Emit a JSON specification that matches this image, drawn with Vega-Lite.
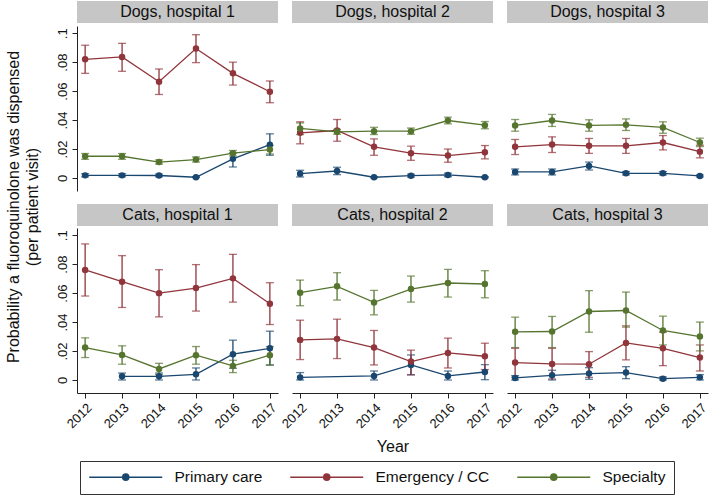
{
  "$schema": "https://vega.github.io/schema/vega-lite/v6.json",
  "padding": {"left": 2, "top": 1, "right": 2, "bottom": 4},
  "spacing": 14,
  "datasets": {
    "d": [
      {"panel":"D1","group":"Primary care","year":2012,"p":0.0018,"lo":0.0008,"hi":0.003},
      {"panel":"D1","group":"Primary care","year":2013,"p":0.0018,"lo":0.0008,"hi":0.003},
      {"panel":"D1","group":"Primary care","year":2014,"p":0.0017,"lo":0.0008,"hi":0.0027},
      {"panel":"D1","group":"Primary care","year":2015,"p":0.0005,"lo":0.0002,"hi":0.0009},
      {"panel":"D1","group":"Primary care","year":2016,"p":0.0132,"lo":0.0076,"hi":0.0173},
      {"panel":"D1","group":"Primary care","year":2017,"p":0.023,"lo":0.0157,"hi":0.0305},
      {"panel":"D1","group":"Emergency / CC","year":2012,"p":0.082,"lo":0.0723,"hi":0.0917},
      {"panel":"D1","group":"Emergency / CC","year":2013,"p":0.0836,"lo":0.0737,"hi":0.093},
      {"panel":"D1","group":"Emergency / CC","year":2014,"p":0.0665,"lo":0.0577,"hi":0.0753},
      {"panel":"D1","group":"Emergency / CC","year":2015,"p":0.0894,"lo":0.0797,"hi":0.099},
      {"panel":"D1","group":"Emergency / CC","year":2016,"p":0.0723,"lo":0.0642,"hi":0.08},
      {"panel":"D1","group":"Emergency / CC","year":2017,"p":0.0596,"lo":0.052,"hi":0.067},
      {"panel":"D1","group":"Specialty","year":2012,"p":0.015,"lo":0.0129,"hi":0.0169},
      {"panel":"D1","group":"Specialty","year":2013,"p":0.015,"lo":0.0129,"hi":0.0169},
      {"panel":"D1","group":"Specialty","year":2014,"p":0.011,"lo":0.0096,"hi":0.0125},
      {"panel":"D1","group":"Specialty","year":2015,"p":0.0127,"lo":0.011,"hi":0.0145},
      {"panel":"D1","group":"Specialty","year":2016,"p":0.0171,"lo":0.0152,"hi":0.019},
      {"panel":"D1","group":"Specialty","year":2017,"p":0.0196,"lo":0.0166,"hi":0.0225},

      {"panel":"D2","group":"Primary care","year":2012,"p":0.003,"lo":0.0007,"hi":0.0053},
      {"panel":"D2","group":"Primary care","year":2013,"p":0.0048,"lo":0.0023,"hi":0.0074},
      {"panel":"D2","group":"Primary care","year":2014,"p":0.0005,"lo":0.0001,"hi":0.0009},
      {"panel":"D2","group":"Primary care","year":2015,"p":0.0016,"lo":0.0006,"hi":0.0026},
      {"panel":"D2","group":"Primary care","year":2016,"p":0.0021,"lo":0.0009,"hi":0.0033},
      {"panel":"D2","group":"Primary care","year":2017,"p":0.0005,"lo":0.0001,"hi":0.0009},
      {"panel":"D2","group":"Emergency / CC","year":2012,"p":0.0312,"lo":0.0236,"hi":0.0388},
      {"panel":"D2","group":"Emergency / CC","year":2013,"p":0.0328,"lo":0.0254,"hi":0.0404},
      {"panel":"D2","group":"Emergency / CC","year":2014,"p":0.0215,"lo":0.0157,"hi":0.027},
      {"panel":"D2","group":"Emergency / CC","year":2015,"p":0.0171,"lo":0.0122,"hi":0.022},
      {"panel":"D2","group":"Emergency / CC","year":2016,"p":0.0155,"lo":0.0109,"hi":0.02},
      {"panel":"D2","group":"Emergency / CC","year":2017,"p":0.0178,"lo":0.0132,"hi":0.0224},
      {"panel":"D2","group":"Specialty","year":2012,"p":0.0342,"lo":0.03,"hi":0.038},
      {"panel":"D2","group":"Specialty","year":2013,"p":0.0319,"lo":0.0302,"hi":0.0336},
      {"panel":"D2","group":"Specialty","year":2014,"p":0.0323,"lo":0.03,"hi":0.035},
      {"panel":"D2","group":"Specialty","year":2015,"p":0.0323,"lo":0.0302,"hi":0.0345},
      {"panel":"D2","group":"Specialty","year":2016,"p":0.0397,"lo":0.0374,"hi":0.042},
      {"panel":"D2","group":"Specialty","year":2017,"p":0.0365,"lo":0.034,"hi":0.039},

      {"panel":"D3","group":"Primary care","year":2012,"p":0.0042,"lo":0.0021,"hi":0.0062},
      {"panel":"D3","group":"Primary care","year":2013,"p":0.0042,"lo":0.0021,"hi":0.0062},
      {"panel":"D3","group":"Primary care","year":2014,"p":0.0083,"lo":0.0055,"hi":0.011},
      {"panel":"D3","group":"Primary care","year":2015,"p":0.0032,"lo":0.0021,"hi":0.0044},
      {"panel":"D3","group":"Primary care","year":2016,"p":0.0032,"lo":0.0021,"hi":0.0044},
      {"panel":"D3","group":"Primary care","year":2017,"p":0.0014,"lo":0.0007,"hi":0.0021},
      {"panel":"D3","group":"Emergency / CC","year":2012,"p":0.0215,"lo":0.0162,"hi":0.0266},
      {"panel":"D3","group":"Emergency / CC","year":2013,"p":0.0231,"lo":0.0176,"hi":0.0284},
      {"panel":"D3","group":"Emergency / CC","year":2014,"p":0.0222,"lo":0.017,"hi":0.0273},
      {"panel":"D3","group":"Emergency / CC","year":2015,"p":0.0222,"lo":0.017,"hi":0.0273},
      {"panel":"D3","group":"Emergency / CC","year":2016,"p":0.0245,"lo":0.0194,"hi":0.0293},
      {"panel":"D3","group":"Emergency / CC","year":2017,"p":0.0182,"lo":0.0139,"hi":0.0226},
      {"panel":"D3","group":"Specialty","year":2012,"p":0.0363,"lo":0.0323,"hi":0.0404},
      {"panel":"D3","group":"Specialty","year":2013,"p":0.0397,"lo":0.0356,"hi":0.0439},
      {"panel":"D3","group":"Specialty","year":2014,"p":0.0363,"lo":0.0323,"hi":0.0402},
      {"panel":"D3","group":"Specialty","year":2015,"p":0.0367,"lo":0.0328,"hi":0.0408},
      {"panel":"D3","group":"Specialty","year":2016,"p":0.0349,"lo":0.0309,"hi":0.0388},
      {"panel":"D3","group":"Specialty","year":2017,"p":0.0245,"lo":0.0217,"hi":0.0275},

      {"panel":"C1","group":"Primary care","year":2013,"p":0.0025,"lo":0.0,"hi":0.0048},
      {"panel":"C1","group":"Primary care","year":2014,"p":0.0025,"lo":0.0,"hi":0.0048},
      {"panel":"C1","group":"Primary care","year":2015,"p":0.0039,"lo":0.0,"hi":0.0083},
      {"panel":"C1","group":"Primary care","year":2016,"p":0.0178,"lo":0.0081,"hi":0.0275},
      {"panel":"C1","group":"Primary care","year":2017,"p":0.0219,"lo":0.0104,"hi":0.0337},
      {"panel":"C1","group":"Emergency / CC","year":2012,"p":0.076,"lo":0.058,"hi":0.094},
      {"panel":"C1","group":"Emergency / CC","year":2013,"p":0.0679,"lo":0.0501,"hi":0.0859},
      {"panel":"C1","group":"Emergency / CC","year":2014,"p":0.06,"lo":0.0436,"hi":0.0762},
      {"panel":"C1","group":"Emergency / CC","year":2015,"p":0.0635,"lo":0.0476,"hi":0.0797},
      {"panel":"C1","group":"Emergency / CC","year":2016,"p":0.0702,"lo":0.0538,"hi":0.0868},
      {"panel":"C1","group":"Emergency / CC","year":2017,"p":0.0527,"lo":0.0383,"hi":0.0672},
      {"panel":"C1","group":"Specialty","year":2012,"p":0.0224,"lo":0.0155,"hi":0.0291},
      {"panel":"C1","group":"Specialty","year":2013,"p":0.0173,"lo":0.0109,"hi":0.0236},
      {"panel":"C1","group":"Specialty","year":2014,"p":0.0076,"lo":0.0037,"hi":0.0115},
      {"panel":"C1","group":"Specialty","year":2015,"p":0.0171,"lo":0.0109,"hi":0.0231},
      {"panel":"C1","group":"Specialty","year":2016,"p":0.0097,"lo":0.0051,"hi":0.0136},
      {"panel":"C1","group":"Specialty","year":2017,"p":0.0171,"lo":0.0102,"hi":0.0231},

      {"panel":"C2","group":"Primary care","year":2012,"p":0.0018,"lo":0.0,"hi":0.0051},
      {"panel":"C2","group":"Primary care","year":2014,"p":0.0028,"lo":0.0,"hi":0.0062},
      {"panel":"C2","group":"Primary care","year":2015,"p":0.0104,"lo":0.0035,"hi":0.0173},
      {"panel":"C2","group":"Primary care","year":2016,"p":0.0028,"lo":0.0,"hi":0.0062},
      {"panel":"C2","group":"Primary care","year":2017,"p":0.0055,"lo":0.0002,"hi":0.0106},
      {"panel":"C2","group":"Emergency / CC","year":2012,"p":0.0277,"lo":0.0141,"hi":0.0413},
      {"panel":"C2","group":"Emergency / CC","year":2013,"p":0.0284,"lo":0.0148,"hi":0.042},
      {"panel":"C2","group":"Emergency / CC","year":2014,"p":0.0224,"lo":0.0104,"hi":0.0342},
      {"panel":"C2","group":"Emergency / CC","year":2015,"p":0.0127,"lo":0.0037,"hi":0.0206},
      {"panel":"C2","group":"Emergency / CC","year":2016,"p":0.0187,"lo":0.0083,"hi":0.0289},
      {"panel":"C2","group":"Emergency / CC","year":2017,"p":0.0164,"lo":0.0072,"hi":0.0254},
      {"panel":"C2","group":"Specialty","year":2012,"p":0.0603,"lo":0.0513,"hi":0.069},
      {"panel":"C2","group":"Specialty","year":2013,"p":0.0647,"lo":0.0552,"hi":0.0741},
      {"panel":"C2","group":"Specialty","year":2014,"p":0.0536,"lo":0.045,"hi":0.0619},
      {"panel":"C2","group":"Specialty","year":2015,"p":0.0628,"lo":0.0538,"hi":0.0718},
      {"panel":"C2","group":"Specialty","year":2016,"p":0.067,"lo":0.0573,"hi":0.0764},
      {"panel":"C2","group":"Specialty","year":2017,"p":0.0663,"lo":0.0568,"hi":0.0755},

      {"panel":"C3","group":"Primary care","year":2012,"p":0.0014,"lo":0.0,"hi":0.003},
      {"panel":"C3","group":"Primary care","year":2013,"p":0.0032,"lo":0.0,"hi":0.0067},
      {"panel":"C3","group":"Primary care","year":2014,"p":0.0044,"lo":0.0005,"hi":0.0085},
      {"panel":"C3","group":"Primary care","year":2015,"p":0.0051,"lo":0.0009,"hi":0.0092},
      {"panel":"C3","group":"Primary care","year":2016,"p":0.0009,"lo":0.0,"hi":0.0021},
      {"panel":"C3","group":"Primary care","year":2017,"p":0.0018,"lo":0.0,"hi":0.0037},
      {"panel":"C3","group":"Emergency / CC","year":2012,"p":0.012,"lo":0.0018,"hi":0.0219},
      {"panel":"C3","group":"Emergency / CC","year":2013,"p":0.0111,"lo":0.0007,"hi":0.0219},
      {"panel":"C3","group":"Emergency / CC","year":2014,"p":0.0109,"lo":0.0018,"hi":0.0196},
      {"panel":"C3","group":"Emergency / CC","year":2015,"p":0.0256,"lo":0.0139,"hi":0.0374},
      {"panel":"C3","group":"Emergency / CC","year":2016,"p":0.0219,"lo":0.0099,"hi":0.033},
      {"panel":"C3","group":"Emergency / CC","year":2017,"p":0.0155,"lo":0.0062,"hi":0.0242},
      {"panel":"C3","group":"Specialty","year":2012,"p":0.0333,"lo":0.0224,"hi":0.0434},
      {"panel":"C3","group":"Specialty","year":2013,"p":0.0335,"lo":0.0224,"hi":0.0439},
      {"panel":"C3","group":"Specialty","year":2014,"p":0.0473,"lo":0.033,"hi":0.0617},
      {"panel":"C3","group":"Specialty","year":2015,"p":0.048,"lo":0.0365,"hi":0.0607},
      {"panel":"C3","group":"Specialty","year":2016,"p":0.0342,"lo":0.0242,"hi":0.0441},
      {"panel":"C3","group":"Specialty","year":2017,"p":0.03,"lo":0.0201,"hi":0.04}
    ]
  },
  "hconcat": [
    {"width": 24, "height": 412, "data": {"values": [{"t": ["Probability a fluoroquinolone was dispensed", "(per patient visit)"]}]}, "mark": {"type": "text", "angle": 270, "fontSize": 16, "lineHeight": 19, "color": "#111", "align": "center", "baseline": "middle"}, "encoding": {"text": {"field": "t"}}},
    {"vconcat": [
      {"vconcat": [
        {"hconcat": [
          {"width": 201, "height": 22, "view": {"fill": "#c6c6c6", "stroke": null}, "data": {"values": [{"t": "Dogs, hospital 1"}]}, "mark": {"type": "text", "fontSize": 16, "color": "#111"}, "encoding": {"text": {"field": "t"}}},
          {"width": 201, "height": 22, "view": {"fill": "#c6c6c6", "stroke": null}, "data": {"values": [{"t": "Dogs, hospital 2"}]}, "mark": {"type": "text", "fontSize": 16, "color": "#111"}, "encoding": {"text": {"field": "t"}}},
          {"width": 201, "height": 22, "view": {"fill": "#c6c6c6", "stroke": null}, "data": {"values": [{"t": "Dogs, hospital 3"}]}, "mark": {"type": "text", "fontSize": 16, "color": "#111"}, "encoding": {"text": {"field": "t"}}}
        ], "spacing": 14, "bounds": "flush"},
        {"hconcat": [
          {"width": 201, "height": 165, "data": {"name": "d"}, "transform": [{"filter": "datum.panel == 'D1'"}],
           "encoding": {"x": {"field": "year", "type": "quantitative", "scale": {"domain": [2011.78, 2017.22], "nice": false}, "axis": null},
                        "color": {"field": "group", "type": "nominal", "title": null, "scale": {"domain": ["Primary care", "Emergency / CC", "Specialty"], "range": ["#1a476f", "#90353b", "#55752f"]}, "legend": {"orient": "none", "legendX": 78, "legendY": 460}}},
           "layer": [
             {"mark": {"type": "errorbar", "ticks": {"size": 8, "thickness": 1.3}, "thickness": 1.3}, "encoding": {"y": {"field": "lo", "type": "quantitative", "scale": {"domain": [-0.009, 0.105], "nice": false, "zero": false}, "axis": {"values": [0, 0.02, 0.04, 0.06, 0.08, 0.1], "labelExpr": "datum.value == 0 ? '0' : substring(format(datum.value, '.2~f'), 1)", "title": null}}, "y2": {"field": "hi"}}},
             {"mark": {"type": "line", "strokeWidth": 1.3}, "encoding": {"y": {"field": "p", "type": "quantitative", "scale": {"domain": [-0.009, 0.105], "nice": false, "zero": false}, "axis": {"values": [0, 0.02, 0.04, 0.06, 0.08, 0.1], "labelExpr": "datum.value == 0 ? '0' : substring(format(datum.value, '.2~f'), 1)", "title": null}}}},
             {"mark": {"type": "point", "filled": true, "size": 42, "opacity": 1}, "encoding": {"y": {"field": "p", "type": "quantitative", "scale": {"domain": [-0.009, 0.105], "nice": false, "zero": false}, "axis": {"values": [0, 0.02, 0.04, 0.06, 0.08, 0.1], "labelExpr": "datum.value == 0 ? '0' : substring(format(datum.value, '.2~f'), 1)", "title": null}}}}
           ]},
          {"width": 201, "height": 165, "data": {"name": "d"}, "transform": [{"filter": "datum.panel == 'D2'"}],
           "encoding": {"x": {"field": "year", "type": "quantitative", "scale": {"domain": [2011.78, 2017.22], "nice": false}, "axis": null},
                        "color": {"field": "group", "type": "nominal", "title": null, "scale": {"domain": ["Primary care", "Emergency / CC", "Specialty"], "range": ["#1a476f", "#90353b", "#55752f"]}, "legend": {"orient": "none", "legendX": 78, "legendY": 460}}},
           "layer": [
             {"mark": {"type": "errorbar", "ticks": {"size": 8, "thickness": 1.3}, "thickness": 1.3}, "encoding": {"y": {"field": "lo", "type": "quantitative", "scale": {"domain": [-0.009, 0.105], "nice": false, "zero": false}, "axis": null}, "y2": {"field": "hi"}}},
             {"mark": {"type": "line", "strokeWidth": 1.3}, "encoding": {"y": {"field": "p", "type": "quantitative", "scale": {"domain": [-0.009, 0.105], "nice": false, "zero": false}, "axis": null}}},
             {"mark": {"type": "point", "filled": true, "size": 42, "opacity": 1}, "encoding": {"y": {"field": "p", "type": "quantitative", "scale": {"domain": [-0.009, 0.105], "nice": false, "zero": false}, "axis": null}}}
           ]},
          {"width": 201, "height": 165, "data": {"name": "d"}, "transform": [{"filter": "datum.panel == 'D3'"}],
           "encoding": {"x": {"field": "year", "type": "quantitative", "scale": {"domain": [2011.78, 2017.22], "nice": false}, "axis": null},
                        "color": {"field": "group", "type": "nominal", "title": null, "scale": {"domain": ["Primary care", "Emergency / CC", "Specialty"], "range": ["#1a476f", "#90353b", "#55752f"]}, "legend": {"orient": "none", "legendX": 78, "legendY": 460}}},
           "layer": [
             {"mark": {"type": "errorbar", "ticks": {"size": 8, "thickness": 1.3}, "thickness": 1.3}, "encoding": {"y": {"field": "lo", "type": "quantitative", "scale": {"domain": [-0.009, 0.105], "nice": false, "zero": false}, "axis": null}, "y2": {"field": "hi"}}},
             {"mark": {"type": "line", "strokeWidth": 1.3}, "encoding": {"y": {"field": "p", "type": "quantitative", "scale": {"domain": [-0.009, 0.105], "nice": false, "zero": false}, "axis": null}}},
             {"mark": {"type": "point", "filled": true, "size": 42, "opacity": 1}, "encoding": {"y": {"field": "p", "type": "quantitative", "scale": {"domain": [-0.009, 0.105], "nice": false, "zero": false}, "axis": null}}}
           ]}
        ], "spacing": 14, "bounds": "flush"}
      ], "spacing": 3},
      {"vconcat": [
        {"hconcat": [
          {"width": 201, "height": 22, "view": {"fill": "#c6c6c6", "stroke": null}, "data": {"values": [{"t": "Cats, hospital 1"}]}, "mark": {"type": "text", "fontSize": 16, "color": "#111"}, "encoding": {"text": {"field": "t"}}},
          {"width": 201, "height": 22, "view": {"fill": "#c6c6c6", "stroke": null}, "data": {"values": [{"t": "Cats, hospital 2"}]}, "mark": {"type": "text", "fontSize": 16, "color": "#111"}, "encoding": {"text": {"field": "t"}}},
          {"width": 201, "height": 22, "view": {"fill": "#c6c6c6", "stroke": null}, "data": {"values": [{"t": "Cats, hospital 3"}]}, "mark": {"type": "text", "fontSize": 16, "color": "#111"}, "encoding": {"text": {"field": "t"}}}
        ], "spacing": 14, "bounds": "flush"},
        {"hconcat": [
          {"width": 201, "height": 165, "data": {"name": "d"}, "transform": [{"filter": "datum.panel == 'C1'"}],
           "encoding": {"x": {"field": "year", "type": "quantitative", "scale": {"domain": [2011.78, 2017.22], "nice": false}, "axis": {"values": [2012, 2013, 2014, 2015, 2016, 2017], "format": "d", "labelAngle": -45, "title": null}},
                        "color": {"field": "group", "type": "nominal", "title": null, "scale": {"domain": ["Primary care", "Emergency / CC", "Specialty"], "range": ["#1a476f", "#90353b", "#55752f"]}, "legend": {"orient": "none", "legendX": 78, "legendY": 460}}},
           "layer": [
             {"mark": {"type": "errorbar", "ticks": {"size": 8, "thickness": 1.3}, "thickness": 1.3}, "encoding": {"y": {"field": "lo", "type": "quantitative", "scale": {"domain": [-0.009, 0.105], "nice": false, "zero": false}, "axis": {"values": [0, 0.02, 0.04, 0.06, 0.08, 0.1], "labelExpr": "datum.value == 0 ? '0' : substring(format(datum.value, '.2~f'), 1)", "title": null}}, "y2": {"field": "hi"}}},
             {"mark": {"type": "line", "strokeWidth": 1.3}, "encoding": {"y": {"field": "p", "type": "quantitative", "scale": {"domain": [-0.009, 0.105], "nice": false, "zero": false}, "axis": {"values": [0, 0.02, 0.04, 0.06, 0.08, 0.1], "labelExpr": "datum.value == 0 ? '0' : substring(format(datum.value, '.2~f'), 1)", "title": null}}}},
             {"mark": {"type": "point", "filled": true, "size": 42, "opacity": 1}, "encoding": {"y": {"field": "p", "type": "quantitative", "scale": {"domain": [-0.009, 0.105], "nice": false, "zero": false}, "axis": {"values": [0, 0.02, 0.04, 0.06, 0.08, 0.1], "labelExpr": "datum.value == 0 ? '0' : substring(format(datum.value, '.2~f'), 1)", "title": null}}}}
           ]},
          {"width": 201, "height": 165, "data": {"name": "d"}, "transform": [{"filter": "datum.panel == 'C2'"}],
           "encoding": {"x": {"field": "year", "type": "quantitative", "scale": {"domain": [2011.78, 2017.22], "nice": false}, "axis": {"values": [2012, 2013, 2014, 2015, 2016, 2017], "format": "d", "labelAngle": -45, "title": "Year"}},
                        "color": {"field": "group", "type": "nominal", "title": null, "scale": {"domain": ["Primary care", "Emergency / CC", "Specialty"], "range": ["#1a476f", "#90353b", "#55752f"]}, "legend": {"orient": "none", "legendX": 78, "legendY": 460}}},
           "layer": [
             {"mark": {"type": "errorbar", "ticks": {"size": 8, "thickness": 1.3}, "thickness": 1.3}, "encoding": {"y": {"field": "lo", "type": "quantitative", "scale": {"domain": [-0.009, 0.105], "nice": false, "zero": false}, "axis": null}, "y2": {"field": "hi"}}},
             {"mark": {"type": "line", "strokeWidth": 1.3}, "encoding": {"y": {"field": "p", "type": "quantitative", "scale": {"domain": [-0.009, 0.105], "nice": false, "zero": false}, "axis": null}}},
             {"mark": {"type": "point", "filled": true, "size": 42, "opacity": 1}, "encoding": {"y": {"field": "p", "type": "quantitative", "scale": {"domain": [-0.009, 0.105], "nice": false, "zero": false}, "axis": null}}}
           ]},
          {"width": 201, "height": 165, "data": {"name": "d"}, "transform": [{"filter": "datum.panel == 'C3'"}],
           "encoding": {"x": {"field": "year", "type": "quantitative", "scale": {"domain": [2011.78, 2017.22], "nice": false}, "axis": {"values": [2012, 2013, 2014, 2015, 2016, 2017], "format": "d", "labelAngle": -45, "title": null}},
                        "color": {"field": "group", "type": "nominal", "title": null, "scale": {"domain": ["Primary care", "Emergency / CC", "Specialty"], "range": ["#1a476f", "#90353b", "#55752f"]}, "legend": {"orient": "none", "legendX": 78, "legendY": 460}}},
           "layer": [
             {"mark": {"type": "errorbar", "ticks": {"size": 8, "thickness": 1.3}, "thickness": 1.3}, "encoding": {"y": {"field": "lo", "type": "quantitative", "scale": {"domain": [-0.009, 0.105], "nice": false, "zero": false}, "axis": null}, "y2": {"field": "hi"}}},
             {"mark": {"type": "line", "strokeWidth": 1.3}, "encoding": {"y": {"field": "p", "type": "quantitative", "scale": {"domain": [-0.009, 0.105], "nice": false, "zero": false}, "axis": null}}},
             {"mark": {"type": "point", "filled": true, "size": 42, "opacity": 1}, "encoding": {"y": {"field": "p", "type": "quantitative", "scale": {"domain": [-0.009, 0.105], "nice": false, "zero": false}, "axis": null}}}
           ]}
        ], "spacing": 14, "bounds": "flush"}
      ], "spacing": 2}
    ], "spacing": 13}
  ],
  "config": {
    "font": "Liberation Sans",
    "view": {"stroke": null},
    "axis": {"grid": false, "domainColor": "#222", "tickColor": "#222", "tickSize": 5, "labelColor": "#111", "labelFontSize": 13, "titleColor": "#111", "titleFontSize": 16, "titleFontWeight": "normal", "labelFont": "Liberation Sans", "titleFont": "Liberation Sans"},
    "axisY": {"labelAngle": -90, "labelAlign": "center", "labelBaseline": "bottom", "labelPadding": 3},
    "axisX": {"labelPadding": 3, "titlePadding": 8},
    "legend": {"direction": "horizontal", "labelFontSize": 15.5, "labelColor": "#111", "labelFont": "Liberation Sans", "strokeColor": "#333", "strokeWidth": 1, "padding": 8, "symbolType": "M-6,0H6M-0.5,0A0.5,0.5,0,1,1,0.5,0A0.5,0.5,0,1,1,-0.5,0Z", "symbolSize": 148, "symbolStrokeWidth": 1.5, "symbolOpacity": 1, "columnPadding": 24, "labelOffset": 41, "symbolOffset": 30}
  }
}
